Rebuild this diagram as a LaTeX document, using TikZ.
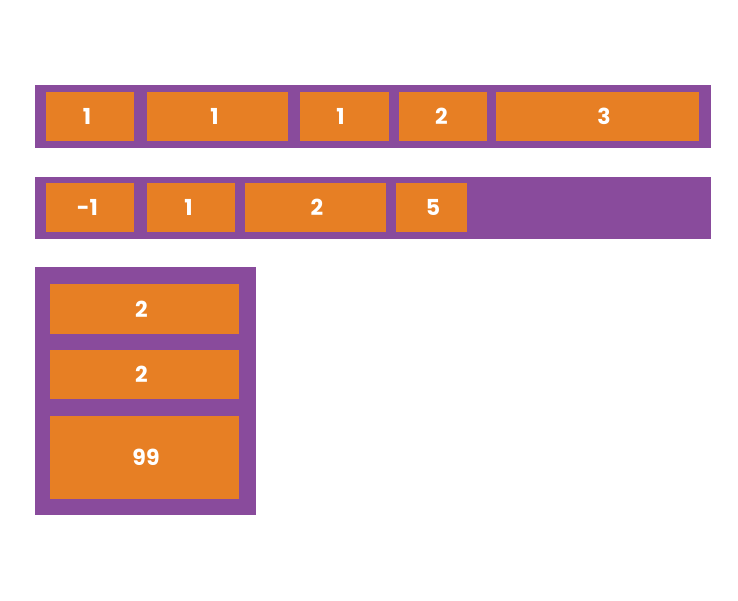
\documentclass[tikz,border=0pt]{standalone}
\usepackage{fontspec}
\setmainfont{Poppins}
\usepackage{tikz}
\usetikzlibrary{positioning}
\definecolor{flexpurple}{RGB}{137,75,156}
\definecolor{flexorange}{RGB}{231,127,36}
\tikzset{
	container/.style = {fill = flexpurple, anchor = north west, inner sep = 0pt, outer sep = 0pt},
	flexitem/.style = {fill = flexorange, anchor = north west, inner sep = 0pt, outer sep = 0pt, text = white, font = \fontsize{22}{22}\selectfont\bfseries}
}

\begin{document}
\begin{tikzpicture}[x = 1pt, y = -1pt]
	\useasboundingbox (0,0) rectangle (738,600);
	% first row
	\node[container, minimum width = 676pt, minimum height = 63pt] (rowa) at (35,85) {};
	\node[flexitem, minimum width = 88pt, minimum height = 49pt] (a1) at (46,92) {1\hspace*{6pt}};
	\node[flexitem, minimum width = 141pt, minimum height = 49pt] (a2) at (147,92) {1\hspace*{6pt}};
	\node[flexitem, minimum width = 89pt, minimum height = 49pt] (a3) at (300,92) {1\hspace*{8pt}};
	\node[flexitem, minimum width = 88pt, minimum height = 49pt] (a4) at (399,92) {2\hspace*{3pt}};
	\node[flexitem, minimum width = 203pt, minimum height = 49pt] (a5) at (496,92) {\hspace*{13pt}3};
	% second row
	\node[container, minimum width = 676pt, minimum height = 62pt] (rowb) at (35,177) {};
	\node[flexitem, minimum width = 88pt, minimum height = 49pt] (b1) at (46,183) {-1\hspace*{5pt}};
	\node[flexitem, minimum width = 88pt, minimum height = 49pt] (b2) at (147,183) {1\hspace*{5pt}};
	\node[flexitem, minimum width = 141pt, minimum height = 49pt] (b3) at (245,183) {\hspace*{3pt}2};
	\node[flexitem, minimum width = 71pt, minimum height = 49pt] (b4) at (396,183) {\hspace*{3pt}5};
	% column
	\node[container, minimum width = 221pt, minimum height = 248pt] (colc) at (35,267) {};
	\node[flexitem, minimum width = 189pt, minimum height = 50pt] (c1) at (50,284) {2\hspace*{6pt}};
	\node[flexitem, minimum width = 189pt, minimum height = 49pt] (c2) at (50,350) {2\hspace*{6pt}};
	\node[flexitem, minimum width = 189pt, minimum height = 83pt] (c3) at (50,416) {\hspace*{3pt}99};
\end{tikzpicture}
\end{document}
